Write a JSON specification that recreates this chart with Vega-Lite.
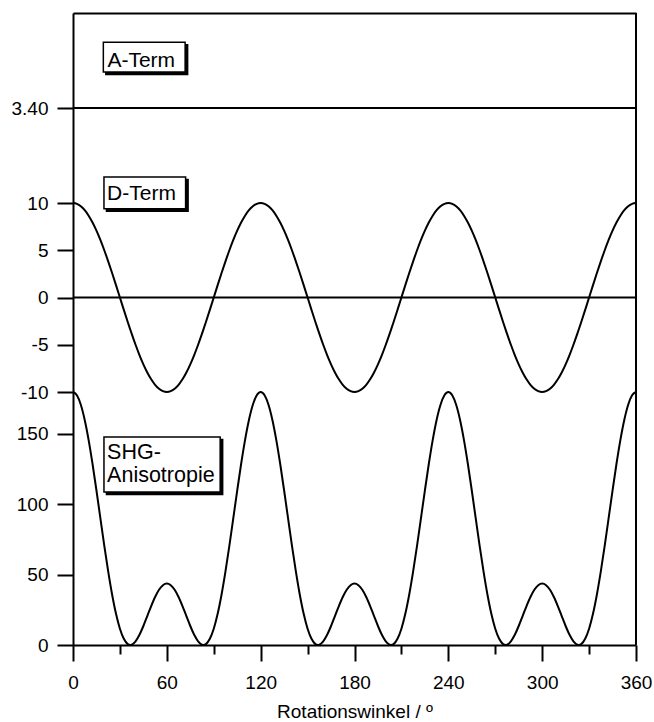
{
  "$schema": "https://vega.github.io/schema/vega-lite/v6.json",
  "background": "white",
  "padding": {"left": 11, "top": 12, "right": 5, "bottom": 0},
  "spacing": 0,
  "bounds": "flush",
  "config": {
    "view": {"stroke": null},
    "axis": {
      "domainColor": "black", "domainWidth": 2,
      "tickColor": "black", "tickWidth": 2,
      "labelColor": "black", "labelFont": "Liberation Sans", "labelFontSize": 19,
      "titleFont": "Liberation Sans", "titleFontSize": 19, "titleFontWeight": "normal", "titleColor": "black",
      "grid": false
    }
  },
  "datasets": {
    "eins": [{}],
    "kurven": [
      {"winkel":0,"A":3.4,"D":10,"SHG":179.56},{"winkel":2.5,"A":3.4,"D":9.914,"SHG":177.27},{"winkel":5,"A":3.4,"D":9.659,"SHG":170.54},{"winkel":7.5,"A":3.4,"D":9.239,"SHG":159.74},{"winkel":10,"A":3.4,"D":8.66,"SHG":145.45},{"winkel":12.5,"A":3.4,"D":7.934,"SHG":128.45},{"winkel":15,"A":3.4,"D":7.071,"SHG":109.64},{"winkel":17.5,"A":3.4,"D":6.088,"SHG":90.02},{"winkel":20,"A":3.4,"D":5,"SHG":70.56},{"winkel":22.5,"A":3.4,"D":3.827,"SHG":52.23},{"winkel":25,"A":3.4,"D":2.588,"SHG":35.86},{"winkel":27.5,"A":3.4,"D":1.305,"SHG":22.14},{"winkel":30,"A":3.4,"D":0,"SHG":11.56},{"winkel":32.5,"A":3.4,"D":-1.305,"SHG":4.39},{"winkel":35,"A":3.4,"D":-2.588,"SHG":0.66},{"winkel":36.63,"A":3.4,"D":-3.4,"SHG":0},{"winkel":37.5,"A":3.4,"D":-3.827,"SHG":0.18},{"winkel":40,"A":3.4,"D":-5,"SHG":2.56},{"winkel":42.5,"A":3.4,"D":-6.088,"SHG":7.22},{"winkel":45,"A":3.4,"D":-7.071,"SHG":13.48},{"winkel":47.5,"A":3.4,"D":-7.934,"SHG":20.55},{"winkel":50,"A":3.4,"D":-8.66,"SHG":27.67},{"winkel":52.5,"A":3.4,"D":-9.239,"SHG":34.09},{"winkel":55,"A":3.4,"D":-9.659,"SHG":39.18},{"winkel":57.5,"A":3.4,"D":-9.914,"SHG":42.44},{"winkel":60,"A":3.4,"D":-10,"SHG":43.56},{"winkel":62.5,"A":3.4,"D":-9.914,"SHG":42.44},{"winkel":65,"A":3.4,"D":-9.659,"SHG":39.18},{"winkel":67.5,"A":3.4,"D":-9.239,"SHG":34.09},{"winkel":70,"A":3.4,"D":-8.66,"SHG":27.67},{"winkel":72.5,"A":3.4,"D":-7.934,"SHG":20.55},{"winkel":75,"A":3.4,"D":-7.071,"SHG":13.48},{"winkel":77.5,"A":3.4,"D":-6.088,"SHG":7.22},{"winkel":80,"A":3.4,"D":-5,"SHG":2.56},{"winkel":82.5,"A":3.4,"D":-3.827,"SHG":0.18},{"winkel":83.37,"A":3.4,"D":-3.4,"SHG":0},{"winkel":85,"A":3.4,"D":-2.588,"SHG":0.66},{"winkel":87.5,"A":3.4,"D":-1.305,"SHG":4.39},{"winkel":90,"A":3.4,"D":0,"SHG":11.56},{"winkel":92.5,"A":3.4,"D":1.305,"SHG":22.14},{"winkel":95,"A":3.4,"D":2.588,"SHG":35.86},{"winkel":97.5,"A":3.4,"D":3.827,"SHG":52.23},{"winkel":100,"A":3.4,"D":5,"SHG":70.56},{"winkel":102.5,"A":3.4,"D":6.088,"SHG":90.02},{"winkel":105,"A":3.4,"D":7.071,"SHG":109.64},{"winkel":107.5,"A":3.4,"D":7.934,"SHG":128.45},{"winkel":110,"A":3.4,"D":8.66,"SHG":145.45},{"winkel":112.5,"A":3.4,"D":9.239,"SHG":159.74},{"winkel":115,"A":3.4,"D":9.659,"SHG":170.54},{"winkel":117.5,"A":3.4,"D":9.914,"SHG":177.27},
      {"winkel":120,"A":3.4,"D":10,"SHG":179.56},{"winkel":122.5,"A":3.4,"D":9.914,"SHG":177.27},{"winkel":125,"A":3.4,"D":9.659,"SHG":170.54},{"winkel":127.5,"A":3.4,"D":9.239,"SHG":159.74},{"winkel":130,"A":3.4,"D":8.66,"SHG":145.45},{"winkel":132.5,"A":3.4,"D":7.934,"SHG":128.45},{"winkel":135,"A":3.4,"D":7.071,"SHG":109.64},{"winkel":137.5,"A":3.4,"D":6.088,"SHG":90.02},{"winkel":140,"A":3.4,"D":5,"SHG":70.56},{"winkel":142.5,"A":3.4,"D":3.827,"SHG":52.23},{"winkel":145,"A":3.4,"D":2.588,"SHG":35.86},{"winkel":147.5,"A":3.4,"D":1.305,"SHG":22.14},{"winkel":150,"A":3.4,"D":0,"SHG":11.56},{"winkel":152.5,"A":3.4,"D":-1.305,"SHG":4.39},{"winkel":155,"A":3.4,"D":-2.588,"SHG":0.66},{"winkel":156.63,"A":3.4,"D":-3.4,"SHG":0},{"winkel":157.5,"A":3.4,"D":-3.827,"SHG":0.18},{"winkel":160,"A":3.4,"D":-5,"SHG":2.56},{"winkel":162.5,"A":3.4,"D":-6.088,"SHG":7.22},{"winkel":165,"A":3.4,"D":-7.071,"SHG":13.48},{"winkel":167.5,"A":3.4,"D":-7.934,"SHG":20.55},{"winkel":170,"A":3.4,"D":-8.66,"SHG":27.67},{"winkel":172.5,"A":3.4,"D":-9.239,"SHG":34.09},{"winkel":175,"A":3.4,"D":-9.659,"SHG":39.18},{"winkel":177.5,"A":3.4,"D":-9.914,"SHG":42.44},{"winkel":180,"A":3.4,"D":-10,"SHG":43.56},{"winkel":182.5,"A":3.4,"D":-9.914,"SHG":42.44},{"winkel":185,"A":3.4,"D":-9.659,"SHG":39.18},{"winkel":187.5,"A":3.4,"D":-9.239,"SHG":34.09},{"winkel":190,"A":3.4,"D":-8.66,"SHG":27.67},{"winkel":192.5,"A":3.4,"D":-7.934,"SHG":20.55},{"winkel":195,"A":3.4,"D":-7.071,"SHG":13.48},{"winkel":197.5,"A":3.4,"D":-6.088,"SHG":7.22},{"winkel":200,"A":3.4,"D":-5,"SHG":2.56},{"winkel":202.5,"A":3.4,"D":-3.827,"SHG":0.18},{"winkel":203.37,"A":3.4,"D":-3.4,"SHG":0},{"winkel":205,"A":3.4,"D":-2.588,"SHG":0.66},{"winkel":207.5,"A":3.4,"D":-1.305,"SHG":4.39},{"winkel":210,"A":3.4,"D":0,"SHG":11.56},{"winkel":212.5,"A":3.4,"D":1.305,"SHG":22.14},{"winkel":215,"A":3.4,"D":2.588,"SHG":35.86},{"winkel":217.5,"A":3.4,"D":3.827,"SHG":52.23},{"winkel":220,"A":3.4,"D":5,"SHG":70.56},{"winkel":222.5,"A":3.4,"D":6.088,"SHG":90.02},{"winkel":225,"A":3.4,"D":7.071,"SHG":109.64},{"winkel":227.5,"A":3.4,"D":7.934,"SHG":128.45},{"winkel":230,"A":3.4,"D":8.66,"SHG":145.45},{"winkel":232.5,"A":3.4,"D":9.239,"SHG":159.74},{"winkel":235,"A":3.4,"D":9.659,"SHG":170.54},{"winkel":237.5,"A":3.4,"D":9.914,"SHG":177.27},
      {"winkel":240,"A":3.4,"D":10,"SHG":179.56},{"winkel":242.5,"A":3.4,"D":9.914,"SHG":177.27},{"winkel":245,"A":3.4,"D":9.659,"SHG":170.54},{"winkel":247.5,"A":3.4,"D":9.239,"SHG":159.74},{"winkel":250,"A":3.4,"D":8.66,"SHG":145.45},{"winkel":252.5,"A":3.4,"D":7.934,"SHG":128.45},{"winkel":255,"A":3.4,"D":7.071,"SHG":109.64},{"winkel":257.5,"A":3.4,"D":6.088,"SHG":90.02},{"winkel":260,"A":3.4,"D":5,"SHG":70.56},{"winkel":262.5,"A":3.4,"D":3.827,"SHG":52.23},{"winkel":265,"A":3.4,"D":2.588,"SHG":35.86},{"winkel":267.5,"A":3.4,"D":1.305,"SHG":22.14},{"winkel":270,"A":3.4,"D":0,"SHG":11.56},{"winkel":272.5,"A":3.4,"D":-1.305,"SHG":4.39},{"winkel":275,"A":3.4,"D":-2.588,"SHG":0.66},{"winkel":276.63,"A":3.4,"D":-3.4,"SHG":0},{"winkel":277.5,"A":3.4,"D":-3.827,"SHG":0.18},{"winkel":280,"A":3.4,"D":-5,"SHG":2.56},{"winkel":282.5,"A":3.4,"D":-6.088,"SHG":7.22},{"winkel":285,"A":3.4,"D":-7.071,"SHG":13.48},{"winkel":287.5,"A":3.4,"D":-7.934,"SHG":20.55},{"winkel":290,"A":3.4,"D":-8.66,"SHG":27.67},{"winkel":292.5,"A":3.4,"D":-9.239,"SHG":34.09},{"winkel":295,"A":3.4,"D":-9.659,"SHG":39.18},{"winkel":297.5,"A":3.4,"D":-9.914,"SHG":42.44},{"winkel":300,"A":3.4,"D":-10,"SHG":43.56},{"winkel":302.5,"A":3.4,"D":-9.914,"SHG":42.44},{"winkel":305,"A":3.4,"D":-9.659,"SHG":39.18},{"winkel":307.5,"A":3.4,"D":-9.239,"SHG":34.09},{"winkel":310,"A":3.4,"D":-8.66,"SHG":27.67},{"winkel":312.5,"A":3.4,"D":-7.934,"SHG":20.55},{"winkel":315,"A":3.4,"D":-7.071,"SHG":13.48},{"winkel":317.5,"A":3.4,"D":-6.088,"SHG":7.22},{"winkel":320,"A":3.4,"D":-5,"SHG":2.56},{"winkel":322.5,"A":3.4,"D":-3.827,"SHG":0.18},{"winkel":323.37,"A":3.4,"D":-3.4,"SHG":0},{"winkel":325,"A":3.4,"D":-2.588,"SHG":0.66},{"winkel":327.5,"A":3.4,"D":-1.305,"SHG":4.39},{"winkel":330,"A":3.4,"D":0,"SHG":11.56},{"winkel":332.5,"A":3.4,"D":1.305,"SHG":22.14},{"winkel":335,"A":3.4,"D":2.588,"SHG":35.86},{"winkel":337.5,"A":3.4,"D":3.827,"SHG":52.23},{"winkel":340,"A":3.4,"D":5,"SHG":70.56},{"winkel":342.5,"A":3.4,"D":6.088,"SHG":90.02},{"winkel":345,"A":3.4,"D":7.071,"SHG":109.64},{"winkel":347.5,"A":3.4,"D":7.934,"SHG":128.45},{"winkel":350,"A":3.4,"D":8.66,"SHG":145.45},{"winkel":352.5,"A":3.4,"D":9.239,"SHG":159.74},{"winkel":355,"A":3.4,"D":9.659,"SHG":170.54},{"winkel":357.5,"A":3.4,"D":9.914,"SHG":177.27},{"winkel":360,"A":3.4,"D":10,"SHG":179.56}
    ]
  },
  "vconcat": [
    {
      "width": 563,
      "height": 190,
      "layer": [
        {
          "data": {"name": "kurven"},
          "mark": {"type": "line", "color": "black", "strokeWidth": 2},
          "encoding": {
            "x": {"field": "winkel", "type": "quantitative", "scale": {"domain": [0, 360], "nice": false},
                  "axis": {"orient": "top", "labels": false, "ticks": false, "title": null, "domain": true}},
            "y": {"field": "A", "type": "quantitative", "scale": {"domain": [0, 6.8], "nice": false, "zero": false},
                  "axis": {"values": [3.4], "format": ".2f", "tickSize": 16, "labelPadding": 9, "title": null}}
          }
        },
        {
          "data": {"name": "eins"},
          "mark": {"type": "rule", "color": "black", "strokeWidth": 2},
          "encoding": {"x": {"datum": 360}}
        },
        {
          "data": {"name": "eins"},
          "mark": {"type": "rect", "fill": "black", "stroke": "black", "strokeWidth": 1.5, "xOffset": 2.5, "x2Offset": 2.5, "yOffset": 2.5, "y2Offset": 2.5},
          "encoding": {"x": {"datum": 19.4}, "x2": {"datum": 71.7}, "y": {"datum": 5.75}, "y2": {"datum": 4.69}}
        },
        {
          "data": {"name": "eins"},
          "mark": {"type": "rect", "fill": "white", "stroke": "black", "strokeWidth": 1.5},
          "encoding": {"x": {"datum": 19.4}, "x2": {"datum": 71.7}, "y": {"datum": 5.75}, "y2": {"datum": 4.69}}
        },
        {
          "data": {"name": "eins"},
          "mark": {"type": "text", "text": "A-Term", "font": "Liberation Sans", "fontSize": 21, "fill": "black", "align": "left", "baseline": "alphabetic"},
          "encoding": {"x": {"datum": 22.0}, "y": {"datum": 4.88}}
        }
      ]
    },
    {
      "width": 563,
      "height": 189,
      "layer": [
        {
          "data": {"name": "eins"},
          "mark": {"type": "rule", "color": "black", "strokeWidth": 2},
          "encoding": {"y": {"datum": 0}}
        },
        {
          "data": {"name": "kurven"},
          "mark": {"type": "line", "color": "black", "strokeWidth": 2, "interpolate": "monotone"},
          "encoding": {
            "x": {"field": "winkel", "type": "quantitative", "scale": {"domain": [0, 360], "nice": false}, "axis": null},
            "y": {"field": "D", "type": "quantitative", "scale": {"domain": [-10, 10], "nice": false},
                  "axis": {"values": [-10, -5, 0, 5, 10], "labelExpr": "'' + datum.value", "tickSize": 16, "labelPadding": 9, "title": null}}
          }
        },
        {
          "data": {"name": "eins"},
          "mark": {"type": "rule", "color": "black", "strokeWidth": 2},
          "encoding": {"x": {"datum": 360}}
        },
        {
          "data": {"name": "eins"},
          "mark": {"type": "rect", "fill": "black", "stroke": "black", "strokeWidth": 1.5, "xOffset": 2.5, "x2Offset": 2.5, "yOffset": 2.5, "y2Offset": 2.5},
          "encoding": {"x": {"datum": 19.8}, "x2": {"datum": 72.0}, "y": {"datum": 12.74}, "y2": {"datum": 9.4}}
        },
        {
          "data": {"name": "eins"},
          "mark": {"type": "rect", "fill": "white", "stroke": "black", "strokeWidth": 1.5},
          "encoding": {"x": {"datum": 19.8}, "x2": {"datum": 72.0}, "y": {"datum": 12.74}, "y2": {"datum": 9.4}}
        },
        {
          "data": {"name": "eins"},
          "mark": {"type": "text", "text": "D-Term", "font": "Liberation Sans", "fontSize": 21, "fill": "black", "align": "left", "baseline": "alphabetic"},
          "encoding": {"x": {"datum": 21.8}, "y": {"datum": 10.3}}
        }
      ]
    },
    {
      "width": 563,
      "height": 253,
      "layer": [
        {
          "data": {"name": "kurven"},
          "mark": {"type": "line", "color": "black", "strokeWidth": 2, "interpolate": "monotone"},
          "encoding": {
            "x": {"field": "winkel", "type": "quantitative", "scale": {"domain": [0, 360], "nice": false},
                  "axis": {"values": [0, 30, 60, 90, 120, 150, 180, 210, 240, 270, 300, 330, 360],
                           "tickSize": {"condition": {"test": "datum.value % 60 === 0", "value": 16}, "value": 9},
                           "labelExpr": "datum.value % 60 === 0 ? datum.label : ''",
                           "labelPadding": 12, "labelFlush": false, "labelOverlap": false,
                           "title": "Rotationswinkel / º", "titlePadding": 10}},
            "y": {"field": "SHG", "type": "quantitative", "scale": {"domain": [0, 179.56], "nice": false},
                  "axis": {"values": [0, 50, 100, 150], "tickSize": 16, "labelPadding": 9, "title": null}}
          }
        },
        {
          "data": {"name": "eins"},
          "mark": {"type": "rule", "color": "black", "strokeWidth": 2},
          "encoding": {"x": {"datum": 360}}
        },
        {
          "data": {"name": "eins"},
          "mark": {"type": "rect", "fill": "black", "stroke": "black", "strokeWidth": 1.5, "xOffset": 2.5, "x2Offset": 2.5, "yOffset": 2.5, "y2Offset": 2.5},
          "encoding": {"x": {"datum": 19.8}, "x2": {"datum": 94.1}, "y": {"datum": 147.55}, "y2": {"datum": 108.6}}
        },
        {
          "data": {"name": "eins"},
          "mark": {"type": "rect", "fill": "white", "stroke": "black", "strokeWidth": 1.5},
          "encoding": {"x": {"datum": 19.8}, "x2": {"datum": 94.1}, "y": {"datum": 147.55}, "y2": {"datum": 108.6}}
        },
        {
          "data": {"name": "eins"},
          "mark": {"type": "text", "text": ["SHG-", "Anisotropie"], "lineHeight": 23, "font": "Liberation Sans", "fontSize": 21.5, "fill": "black", "align": "left", "baseline": "alphabetic"},
          "encoding": {"x": {"datum": 21.8}, "y": {"datum": 132.0}}
        }
      ]
    }
  ]
}
